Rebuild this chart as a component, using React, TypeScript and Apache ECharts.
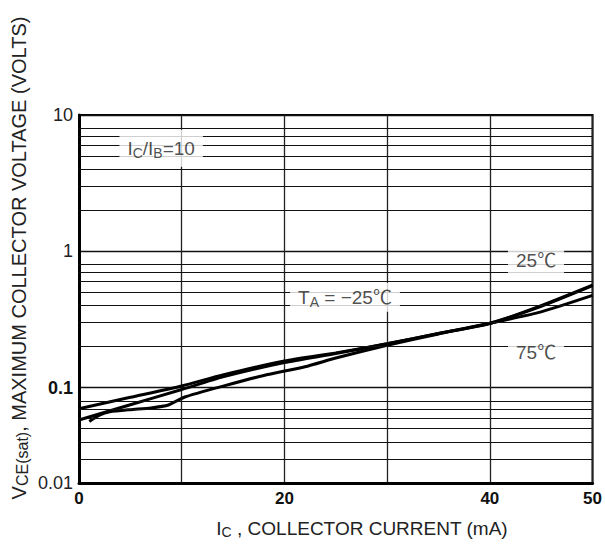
import React, { useEffect, useRef } from 'react';
import * as echarts from 'echarts';

// Tick labels
const xTickLabels = ['0', '', '20', '', '40', '50'];
const yTickLabels = ['0.01', '0.1', '1', '10'];
// Minor horizontal grid lines (log decades)
const minorGrid = [8, 7, 6, 5, 4, 3, 2, 0.8, 0.7, 0.6, 0.5, 0.4, 0.3, 0.2, 0.08, 0.07, 0.06, 0.05, 0.04, 0.03];

// Curves: [IC (mA), VCE(sat) (V)]
const curveA: [number, number][] = [
  [0, 0.07], [5, 0.085], [10, 0.103], [14, 0.124], [20, 0.157], [25, 0.18],
  [30, 0.21], [35, 0.25], [40, 0.297], [45, 0.36], [50, 0.475],
];
const curveB: [number, number][] = [
  [0, 0.058], [5, 0.075], [10, 0.097], [14, 0.12], [20, 0.153], [25, 0.178],
  [30, 0.21], [35, 0.25], [40, 0.295], [45, 0.4], [50, 0.565],
];
const curveC: [number, number][] = [
  [1, 0.0566], [2, 0.063], [3, 0.0665], [5, 0.069], [7, 0.071], [8.7, 0.0746], [10.3, 0.0855],
  [14.2, 0.1035], [18, 0.123], [22, 0.1425], [25, 0.165], [30, 0.205], [35, 0.248],
  [40, 0.297], [45, 0.395], [50, 0.56],
];

// Annotations
const annotationPos: [number, number][] = [[8, 5.7], [44.5, 0.85], [25.9, 0.46], [44.5, 0.18]];
const annotationText = [
  '{n|I}{s|C}{n|/I}{s|B}{n|=10}',
  '{n|25℃}',
  '{n|T}{s|A}{n| = −25℃}',
  '{n|75℃}',
];

const xTitle = '{n|I}{s|C}{n| , COLLECTOR CURRENT (mA)}';
const yTitle = '{n|V}{s|CE(sat)}{n|, MAXIMUM COLLECTOR VOLTAGE (VOLTS)}';

const FONT = '"Liberation Sans", Arial, "Noto Sans CJK KR", sans-serif';

export default function App() {
  const ref = useRef<HTMLDivElement>(null);
  useEffect(() => {
    if (!ref.current) return;
    const chart = echarts.init(ref.current, undefined, { renderer: 'svg' });
    const curveStyle = { color: '#000', width: 3 };
    const richBase = {
      n: { fontSize: 19, lineHeight: 23, color: '#222', fontFamily: FONT },
      s: { fontSize: 14, lineHeight: 14, padding: [9, 0, 0, 0], color: '#222', fontFamily: FONT },
    };
    chart.setOption({
      animation: false,
      backgroundColor: '#fff',
      grid: { left: 79, right: 12, top: 115, bottom: 62, show: true, borderColor: '#000', borderWidth: 2 },
      xAxis: {
        type: 'value', min: 0, max: 50, interval: 10,
        axisLine: { lineStyle: { color: '#000', width: 3 } },
        axisTick: { show: false },
        splitLine: { show: true, lineStyle: { color: '#222', width: 1.3 } },
        axisLabel: {
          margin: 7, fontSize: 17, fontWeight: 'bold', color: '#111', fontFamily: FONT,
          formatter: (v: number) => xTickLabels[Math.round(v / 10)] ?? '',
        },
      },
      yAxis: {
        type: 'log', min: 0.02, max: 10, logBase: 10,
        axisLine: { lineStyle: { color: '#000', width: 3 } },
        axisTick: { show: false },
        splitLine: { show: true, lineStyle: { color: '#111', width: 1.3 } },
        axisLabel: {
          margin: 6, fontSize: 18, color: '#222', fontFamily: FONT,
          formatter: (v: number) => {
            const idx = v < 0.05 ? 0 : Math.round(Math.log10(v)) + 2;
            const t = yTickLabels[idx] ?? '';
            return idx === 1 ? `{b|${t}}` : t;
          },
          rich: { b: { fontSize: 18, fontWeight: 'bold', color: '#111', fontFamily: FONT } },
        },
      },
      series: [
        {
          type: 'line', data: [], z: 1, silent: true,
          markLine: {
            silent: true, symbol: ['none', 'none'], label: { show: false },
            lineStyle: { color: '#111', width: 1.2, type: 'solid' },
            data: minorGrid.map((v) => ({ yAxis: v })),
          },
        },
        { type: 'line', data: curveA, smooth: 0.2, showSymbol: false, lineStyle: curveStyle, z: 3 },
        { type: 'line', data: curveB, smooth: 0.2, showSymbol: false, lineStyle: curveStyle, z: 3 },
        { type: 'line', data: curveC, smooth: 0.2, showSymbol: false, lineStyle: curveStyle, z: 3 },
        {
          type: 'scatter', z: 5, symbolSize: 0, silent: true,
          data: annotationPos.map((p, i) => ({
            value: p,
            label: {
              show: true, position: 'inside', formatter: annotationText[i],
              backgroundColor: '#fff', padding: i === 0 ? [7, 8, 7, 8] : [3, 8, 3, 8],
              rich: richBase,
            },
          })),
        },
      ],
      graphic: [
        {
          type: 'text', x: 362, y: 528,
          style: { text: xTitle, align: 'center', verticalAlign: 'middle', rich: {
            n: { fontSize: 19, fontFamily: FONT, fill: '#222' },
            s: { fontSize: 14, fontFamily: FONT, fill: '#222', padding: [8, 0, 0, 0] },
          } },
        },
        {
          type: 'text', x: 19, y: 258, rotation: Math.PI / 2,
          style: { text: yTitle, align: 'center', verticalAlign: 'middle', rich: {
            n: { fontSize: 20, fontFamily: FONT, fill: '#222' },
            s: { fontSize: 16, fontFamily: FONT, fill: '#222', padding: [6, 0, 0, 0] },
          } },
        },
      ],
    });
    return () => chart.dispose();
  }, []);
  return <div ref={ref} style={{ position: 'fixed', left: 0, top: 0, width: 605, height: 545 }} />;
}
